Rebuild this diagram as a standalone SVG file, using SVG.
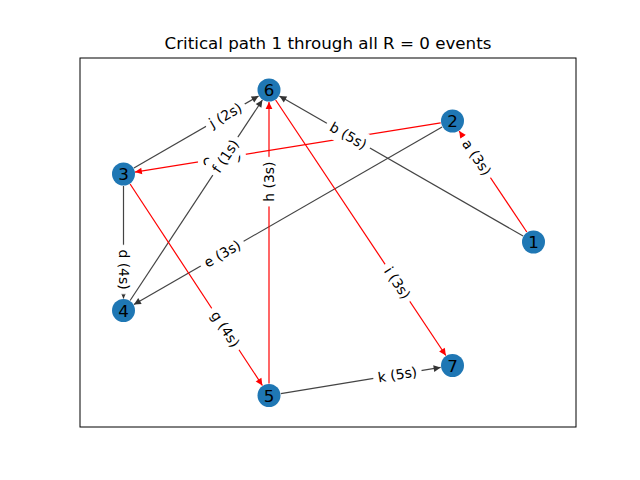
<svg xmlns="http://www.w3.org/2000/svg" width="640" height="480" viewBox="0 0 640 480">
<style>
.e{fill:none;stroke-width:1.2}
.k{stroke:#444}
.r{stroke:#f00}
.lb rect{fill:#fff;stroke:#fff}
.lb text{font-family:"DejaVu Sans",sans-serif;font-size:13.9px;text-anchor:middle;dominant-baseline:central;fill:#000}
.n circle{fill:#1f77b4}
.n text{font-family:"DejaVu Sans",sans-serif;font-size:16.7px;text-anchor:middle;dominant-baseline:central;fill:#000}
</style>
<defs>
<marker id="ak" markerUnits="userSpaceOnUse" markerWidth="10" markerHeight="10" refX="7" refY="3.4" orient="auto" overflow="visible"><path d="M0,0 L7,3.4 L0,6.8 z" fill="#333"/></marker>
<marker id="ar" markerUnits="userSpaceOnUse" markerWidth="10" markerHeight="10" refX="7" refY="3.4" orient="auto" overflow="visible"><path d="M0,0 L7,3.4 L0,6.8 z" fill="#f00"/></marker>
</defs>
<rect x="80" y="58" width="496" height="369" fill="none" stroke="#000" stroke-width="1"/>
<text x="328" y="49.3" style="font-family:'DejaVu Sans',sans-serif;font-size:16.7px;text-anchor:middle" fill="#000">Critical path 1 through all R = 0 events</text>
<g id="edges">
<line class="e r" x1="526.8" y1="232" x2="459.2" y2="131" marker-end="url(#ar)"/>
<line class="e k" x1="523.1" y1="236" x2="279.4" y2="96" marker-end="url(#ak)"/>
<line class="e r" x1="440.65" y1="122.9" x2="134.85" y2="172.1" marker-end="url(#ar)"/>
<line class="e k" x1="123.5" y1="186" x2="123.5" y2="298.5" marker-end="url(#ak)"/>
<line class="e k" x1="442.1" y1="127" x2="133.9" y2="304.5" marker-end="url(#ak)"/>
<line class="e k" x1="130.1" y1="300.5" x2="262.4" y2="100" marker-end="url(#ak)"/>
<line class="e r" x1="130.1" y1="184" x2="262.4" y2="385.5" marker-end="url(#ar)"/>
<line class="e r" x1="269" y1="383.5" x2="269" y2="102" marker-end="url(#ar)"/>
<line class="e r" x1="275.65" y1="100" x2="445.85" y2="355.5" marker-end="url(#ar)"/>
<line class="e k" x1="133.9" y1="168" x2="258.6" y2="96" marker-end="url(#ak)"/>
<line class="e k" x1="280.85" y1="393.56" x2="440.65" y2="367.44" marker-end="url(#ak)"/>
</g>
<g id="edge-labels" class="lb">
<g transform="translate(476.8,157.3) rotate(56.2)"><rect x="-24" y="-11" width="48" height="22" rx="4"/><text>a (3s)</text></g>
<g transform="translate(348.35,135.6) rotate(29.9)"><rect x="-24.3" y="-11" width="48.6" height="22" rx="4"/><text>b (5s)</text></g>
<g transform="translate(221.85,158.1) rotate(-9.14)"><rect x="-23.7" y="-11" width="47.4" height="22" rx="4"/><text>c (2s)</text></g>
<g transform="translate(123.5,269.55) rotate(90)"><rect x="-24.3" y="-11" width="48.6" height="22" rx="4"/><text>d (4s)</text></g>
<g transform="translate(222.2,253.65) rotate(-29.9)"><rect x="-24.2" y="-11" width="48.4" height="22" rx="4"/><text>e (3s)</text></g>
<g transform="translate(225.35,156.15) rotate(-56.6)"><rect x="-22.3" y="-11" width="44.6" height="22" rx="4"/><text>f (1s)</text></g>
<g transform="translate(225.35,329.05) rotate(56.7)"><rect x="-24.3" y="-11" width="48.6" height="22" rx="4"/><text>g (4s)</text></g>
<g transform="translate(269,181.65) rotate(-90)"><rect x="-24.3" y="-11" width="48.6" height="22" rx="4"/><text>h (3s)</text></g>
<g transform="translate(397.45,282.85) rotate(56.3)"><rect x="-21.8" y="-11" width="43.6" height="22" rx="4"/><text>i (3s)</text></g>
<g transform="translate(225.35,115.2) rotate(-30)"><rect x="-21.8" y="-11" width="43.6" height="22" rx="4"/><text>j (2s)</text></g>
<g transform="translate(397.45,374.5) rotate(-9.29)"><rect x="-23.9" y="-11" width="47.8" height="22" rx="4"/><text>k (5s)</text></g>
</g>
<g id="node1" class="n"><circle cx="533.5" cy="242" r="11.5"/><text x="533.5" y="242">1</text></g>
<g id="node2" class="n"><circle cx="452.5" cy="121" r="11.5"/><text x="452.5" y="121">2</text></g>
<g id="node3" class="n"><circle cx="123.5" cy="174" r="11.5"/><text x="123.5" y="174">3</text></g>
<g id="node4" class="n"><circle cx="123.5" cy="310.5" r="11.5"/><text x="123.5" y="310.5">4</text></g>
<g id="node5" class="n"><circle cx="269" cy="395.5" r="11.5"/><text x="269" y="395.5">5</text></g>
<g id="node6" class="n"><circle cx="269" cy="90" r="11.5"/><text x="269" y="90">6</text></g>
<g id="node7" class="n"><circle cx="452.5" cy="365.5" r="11.5"/><text x="452.5" y="365.5">7</text></g>
</svg>
